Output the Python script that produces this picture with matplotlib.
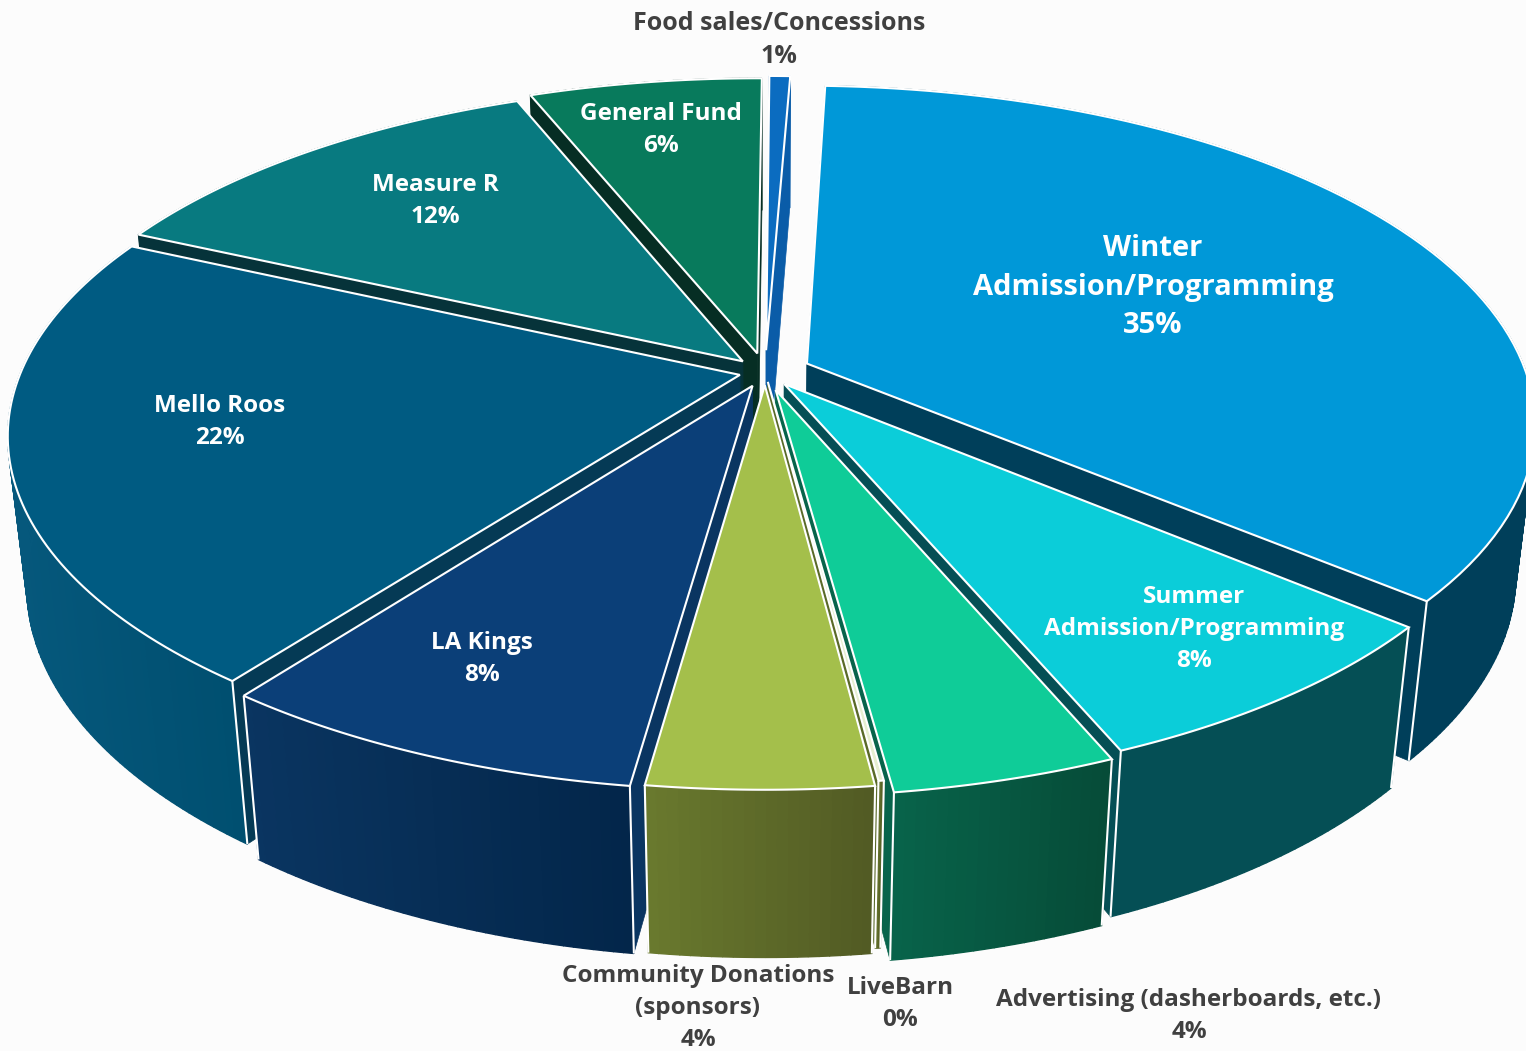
import numpy as np
import matplotlib
matplotlib.use('Agg')
import matplotlib.pyplot as plt
from matplotlib.patches import Polygon

# clockwise from Winter, percent
categories = ['Winter', 'Summer', 'Advertising', 'LiveBarn', 'Community',
              'LA Kings', 'Mello Roos', 'Measure R', 'General Fund', 'Food']
values = [35.6, 7.5, 4.2, 0.1, 4.2, 8.1, 21.6, 12.1, 6.15, 0.55]
explode = [0.064, 0.045, 0.056, 0.03, 0.04, 0.045, 0.036, 0.045, 0.058, 0.067]

top_colors = ['#0098D8', '#0BCDD9', '#0FCC98', '#E6EFD0', '#A4BF4B',
              '#0B3F78', '#005B82', '#087A80', '#087A5C', '#0B6CC0']
wall_left = ['#003F5A', '#054F55', '#08644B', '#6A7A2E', '#6A7A2E',
             '#0A3561', '#06587C', '#06333A', '#062E24', '#0A5CA8']
wall_right = ['#003F5A', '#054F55', '#064C38', '#525B24', '#525B24',
              '#03264A', '#004F70', '#06333A', '#062E24', '#0A5CA8']
side_colors = ['#003F5A', '#054F55', '#08644B', '#5A6A28', '#0A3561',
               '#0A3561', '#053A55', '#06333A', '#062E24', '#0A5CA8']

labels = ['Food sales/Concessions\n1%', 'General Fund\n6%', 'Measure R\n12%',
          'Mello Roos\n22%', 'LA Kings\n8%', 'Winter\nAdmission/Programming\n35%',
          'Summer\nAdmission/Programming\n8%', 'Community Donations\n(sponsors)\n4%',
          'LiveBarn\n0%', 'Advertising (dasherboards, etc.)\n4%']
label_x = [779, 661, 435, 220, 482, 1153, 1194, 698, 900, 1189]
label_y = [40, 130, 201, 422, 659, 287, 629, 1008, 1004, 1016]
label_color = ['#404040', 'white', 'white', 'white', 'white', 'white', 'white',
               '#404040', '#404040', '#404040']
label_size = [18, 17.5, 17.5, 17.5, 17.5, 21, 17.5, 17.5, 17.5, 17.5]

# projection of the tilted disk
cx, cy = 765, 372
A, B, H = 719, 329, 152
k, m = 0.174, 0.025
start = 2.3


def project(u, v, d=0.0):
    w = 1 - k * v + m * d
    return cx + A * u / w, cy + (B * v + H * d) / w


def rim(t, e_u, e_v, d=0.0):
    t = np.radians(t)
    return project(np.sin(t) + e_u, -np.cos(t) + e_v, d)


fig = plt.figure(figsize=(15.26, 10.51), dpi=100, facecolor='#FCFCFC')
ax = fig.add_axes([0, 0, 1, 1])
ax.set_xlim(0, 1526)
ax.set_ylim(1051, 0)
ax.axis('off')

shares = np.array(values) / sum(values) * 360
ends = start + np.cumsum(shares)
begins = ends - shares
mids = (begins + ends) / 2
# back slices first
order = np.argsort(-np.cos(np.radians(mids)))

z = 1
for i in order:
    e = explode[i]
    e_u = e * np.sin(np.radians(mids[i]))
    e_v = -e * np.cos(np.radians(mids[i]))
    ts = np.linspace(begins[i], ends[i], max(int(shares[i] * 1.5), 4))

    apex_top = project(e_u, e_v)
    apex_bot = project(e_u, e_v, 1)
    # radial walls
    for t in (begins[i], ends[i]):
        ax.add_patch(Polygon([apex_top, rim(t, e_u, e_v), rim(t, e_u, e_v, 1), apex_bot],
                             facecolor=side_colors[i], edgecolor=side_colors[i],
                             lw=0.5, zorder=z))
    z += 1
    # outer wall, split up to get the shading
    c0 = np.array(matplotlib.colors.to_rgb(wall_left[i]))
    c1 = np.array(matplotlib.colors.to_rgb(wall_right[i]))
    xs = [rim(t, e_u, e_v)[0] for t in ts]
    for j in range(len(ts) - 1):
        f = (xs[j] - min(xs)) / (max(xs) - min(xs))
        c = c0 + (c1 - c0) * f
        ax.add_patch(Polygon([rim(ts[j], e_u, e_v), rim(ts[j + 1], e_u, e_v),
                              rim(ts[j + 1], e_u, e_v, 1), rim(ts[j], e_u, e_v, 1)],
                             facecolor=c, edgecolor=c, lw=1.0, zorder=z))
    z += 1
    # white verticals at the wall corners that face the viewer
    for t in (begins[i], ends[i]):
        if -np.cos(np.radians(t)) < -0.2:
            continue
        p0, p1 = rim(t, e_u, e_v), rim(t, e_u, e_v, 1)
        ax.plot([p0[0], p1[0]], [p0[1], p1[1]], color='white', lw=1.5, zorder=z,
                solid_capstyle='butt')
    z += 1
    # top face
    pts = [apex_top] + [rim(t, e_u, e_v) for t in np.linspace(begins[i], ends[i], 80)]
    ax.add_patch(Polygon(pts, facecolor=top_colors[i], edgecolor='white', lw=1.5,
                         joinstyle='miter', zorder=z))
    z += 1

for s, x, y, c, fs in zip(labels, label_x, label_y, label_color, label_size):
    ax.text(x, y, s, ha='center', va='center', color=c, fontsize=fs, weight='bold',
            family='Open Sans', linespacing=1.42, zorder=z)

fig.savefig('out.png', dpi=100, facecolor=fig.get_facecolor())
